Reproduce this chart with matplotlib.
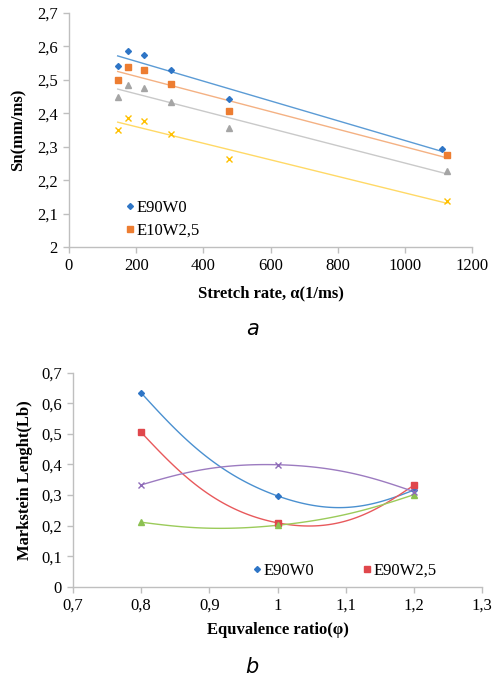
import numpy as np
import matplotlib
matplotlib.use("Agg")
import matplotlib.pyplot as plt

# (a) flame speed vs stretch rate
stretch_x = [145, 177, 222, 303, 476]
stretch_last = [1110, 1125, 1125, 1125]
sn_series = {
    "E90W0": [2.540, 2.587, 2.575, 2.529, 2.443, 2.293],
    "E10W2,5": [2.499, 2.539, 2.528, 2.487, 2.407, 2.274],
    "s3": [2.448, 2.486, 2.475, 2.434, 2.357, 2.226],
    "s4": [2.350, 2.386, 2.377, 2.337, 2.262, 2.138],
}
a_colors = ["#2E75C6", "#ED7D31", "#A5A5A5", "#FFC000"]
a_lines = ["#5B9BD5", "#F4B183", "#C9C9C9", "#FFD966"]
a_markers = ["D", "s", "^", "x"]
a_msize = [3, 5, 4, 4]
a_xticks = [0, 200, 400, 600, 800, 1000, 1200]
a_yticks = [2.0, 2.1, 2.2, 2.3, 2.4, 2.5, 2.6, 2.7]

# (b) Markstein length vs equivalence ratio
phi = [0.8, 1.0, 1.2]
lb_series = {
    "E90W0": [0.634, 0.297, 0.316],
    "E90W2,5": [0.505, 0.209, 0.332],
    "s3": [0.211, 0.201, 0.301],
    "s4": [0.333, 0.399, 0.311],
}
b_colors = ["#2E75C6", "#E0474C", "#8CC152", "#8E6BB8"]
b_lines = ["#4A90D0", "#E8595C", "#9BCB5A", "#9C7BC0"]
b_markers = ["D", "s", "^", "x"]
b_msize = [3, 5, 4, 4]
b_xticks = [0.7, 0.8, 0.9, 1.0, 1.1, 1.2, 1.3]
b_yticks = [0, 0.1, 0.2, 0.3, 0.4, 0.5, 0.6, 0.7]

serif = "Liberation Serif"
spine_c = "#BFBFBF"


def comma(v):
    s = ("%g" % round(v, 2))
    return s.replace(".", ",")


def smooth(xs, ys, f=0.23, n=60):
    # Excel style smoothed line: cardinal spline as cubic Bezier,
    # end tangents taken half way to the neighbouring control point
    p = np.column_stack([xs, ys]).astype(float)
    m = len(p)
    tang = [None] * m
    for i in range(1, m - 1):
        tang[i] = (p[i + 1] - p[i - 1]) * f
    out = []
    for i in range(m - 1):
        p1, p2 = p[i], p[i + 1]
        c1 = p1 + tang[i] if tang[i] is not None else None
        c2 = p2 - tang[i + 1] if tang[i + 1] is not None else None
        if c1 is None:
            c1 = p1 + (c2 - p1) / 2
        if c2 is None:
            c2 = p2 + (c1 - p2) / 2
        t = np.linspace(0, 1, n)[:, None]
        seg = ((1 - t) ** 3) * p1 + 3 * ((1 - t) ** 2) * t * c1 + 3 * (1 - t) * t ** 2 * c2 + t ** 3 * p2
        out.append(seg)
    out = np.vstack(out)
    return out[:, 0], out[:, 1]


def style(ax):
    for s in ["top", "right"]:
        ax.spines[s].set_visible(False)
    for s in ["left", "bottom"]:
        ax.spines[s].set_color(spine_c)
        ax.spines[s].set_linewidth(1.0)
    ax.tick_params(direction="out", length=4, width=1, color=spine_c,
                   labelsize=12, pad=4)
    for lab in ax.get_xticklabels() + ax.get_yticklabels():
        lab.set_fontfamily(serif)


fig = plt.figure(figsize=(4.97, 6.79), dpi=100)

ax1 = fig.add_axes([0.1388, 0.6362, 0.811, 0.3447])
handles = []
for i, (name, vals) in enumerate(sn_series.items()):
    xs = np.array(stretch_x + [stretch_last[i]], dtype=float)
    ys = np.array(vals)
    k, b = np.polyfit(xs, ys, 1)
    xx = np.array([xs.min(), xs.max()])
    ax1.plot(xx, k * xx + b, color=a_lines[i], lw=1.0, zorder=2)
    h, = ax1.plot(xs, ys, ls="none", marker=a_markers[i], ms=a_msize[i],
                  color=a_colors[i], mew=1.0, zorder=3)
    handles.append((h, name))
ax1.set_xlim(0, 1200)
ax1.set_ylim(2.0, 2.7)
ax1.set_xticks(a_xticks)
ax1.set_xticklabels([str(v) for v in a_xticks])
ax1.set_yticks(a_yticks)
ax1.set_yticklabels([comma(v) for v in a_yticks])
style(ax1)
ax1.set_xlabel("Stretch rate, α(1/ms)", fontfamily=serif, fontweight="bold",
               fontsize=12, labelpad=8)
ax1.set_ylabel("Sn(mm/ms)", fontfamily=serif, fontweight="bold",
               fontsize=12, labelpad=8)
ax1.legend([h for h, _ in handles[:2]], [n for _, n in handles[:2]],
           loc="lower left", bbox_to_anchor=(0.108, -0.028), frameon=False,
           prop={"family": serif, "size": 12}, handlelength=0.3,
           handletextpad=0.25, labelspacing=0.4)

ax2 = fig.add_axes([0.1469, 0.1359, 0.823, 0.3152])
bh = []
for i, (name, vals) in enumerate(lb_series.items()):
    sx, sy = smooth(phi, vals)
    ax2.plot(sx, sy, color=b_lines[i], lw=1.0, zorder=2)
    h, = ax2.plot(phi, vals, ls="none", marker=b_markers[i], ms=b_msize[i],
                  color=b_colors[i], mew=1.0, zorder=3)
    bh.append((h, name))
ax2.set_xlim(0.7, 1.3)
ax2.set_ylim(0, 0.7)
ax2.set_xticks(b_xticks)
ax2.set_xticklabels([comma(v) for v in b_xticks])
ax2.set_yticks(b_yticks)
ax2.set_yticklabels([comma(v) for v in b_yticks])
style(ax2)
ax2.set_xlabel("Equvalence ratio(φ)", fontfamily=serif, fontweight="bold",
               fontsize=12, labelpad=6)
ax2.set_ylabel("Markstein Lenght(Lb)", fontfamily=serif, fontweight="bold",
               fontsize=12, labelpad=6)
ax2.legend([h for h, _ in bh[:2]], [n for _, n in bh[:2]], ncol=2,
           loc="lower left", bbox_to_anchor=(0.407, -0.032), frameon=False,
           prop={"family": serif, "size": 12}, handlelength=0.3,
           handletextpad=0.25, columnspacing=3.0)

fig.text(253 / 497, 1 - 329 / 679, "a", fontsize=15, style="italic",
         ha="center", va="center", fontfamily="DejaVu Sans")
fig.text(252 / 497, 1 - 667 / 679, "b", fontsize=15, style="italic",
         ha="center", va="center", fontfamily="DejaVu Sans")

fig.savefig("out.png", dpi=100)
